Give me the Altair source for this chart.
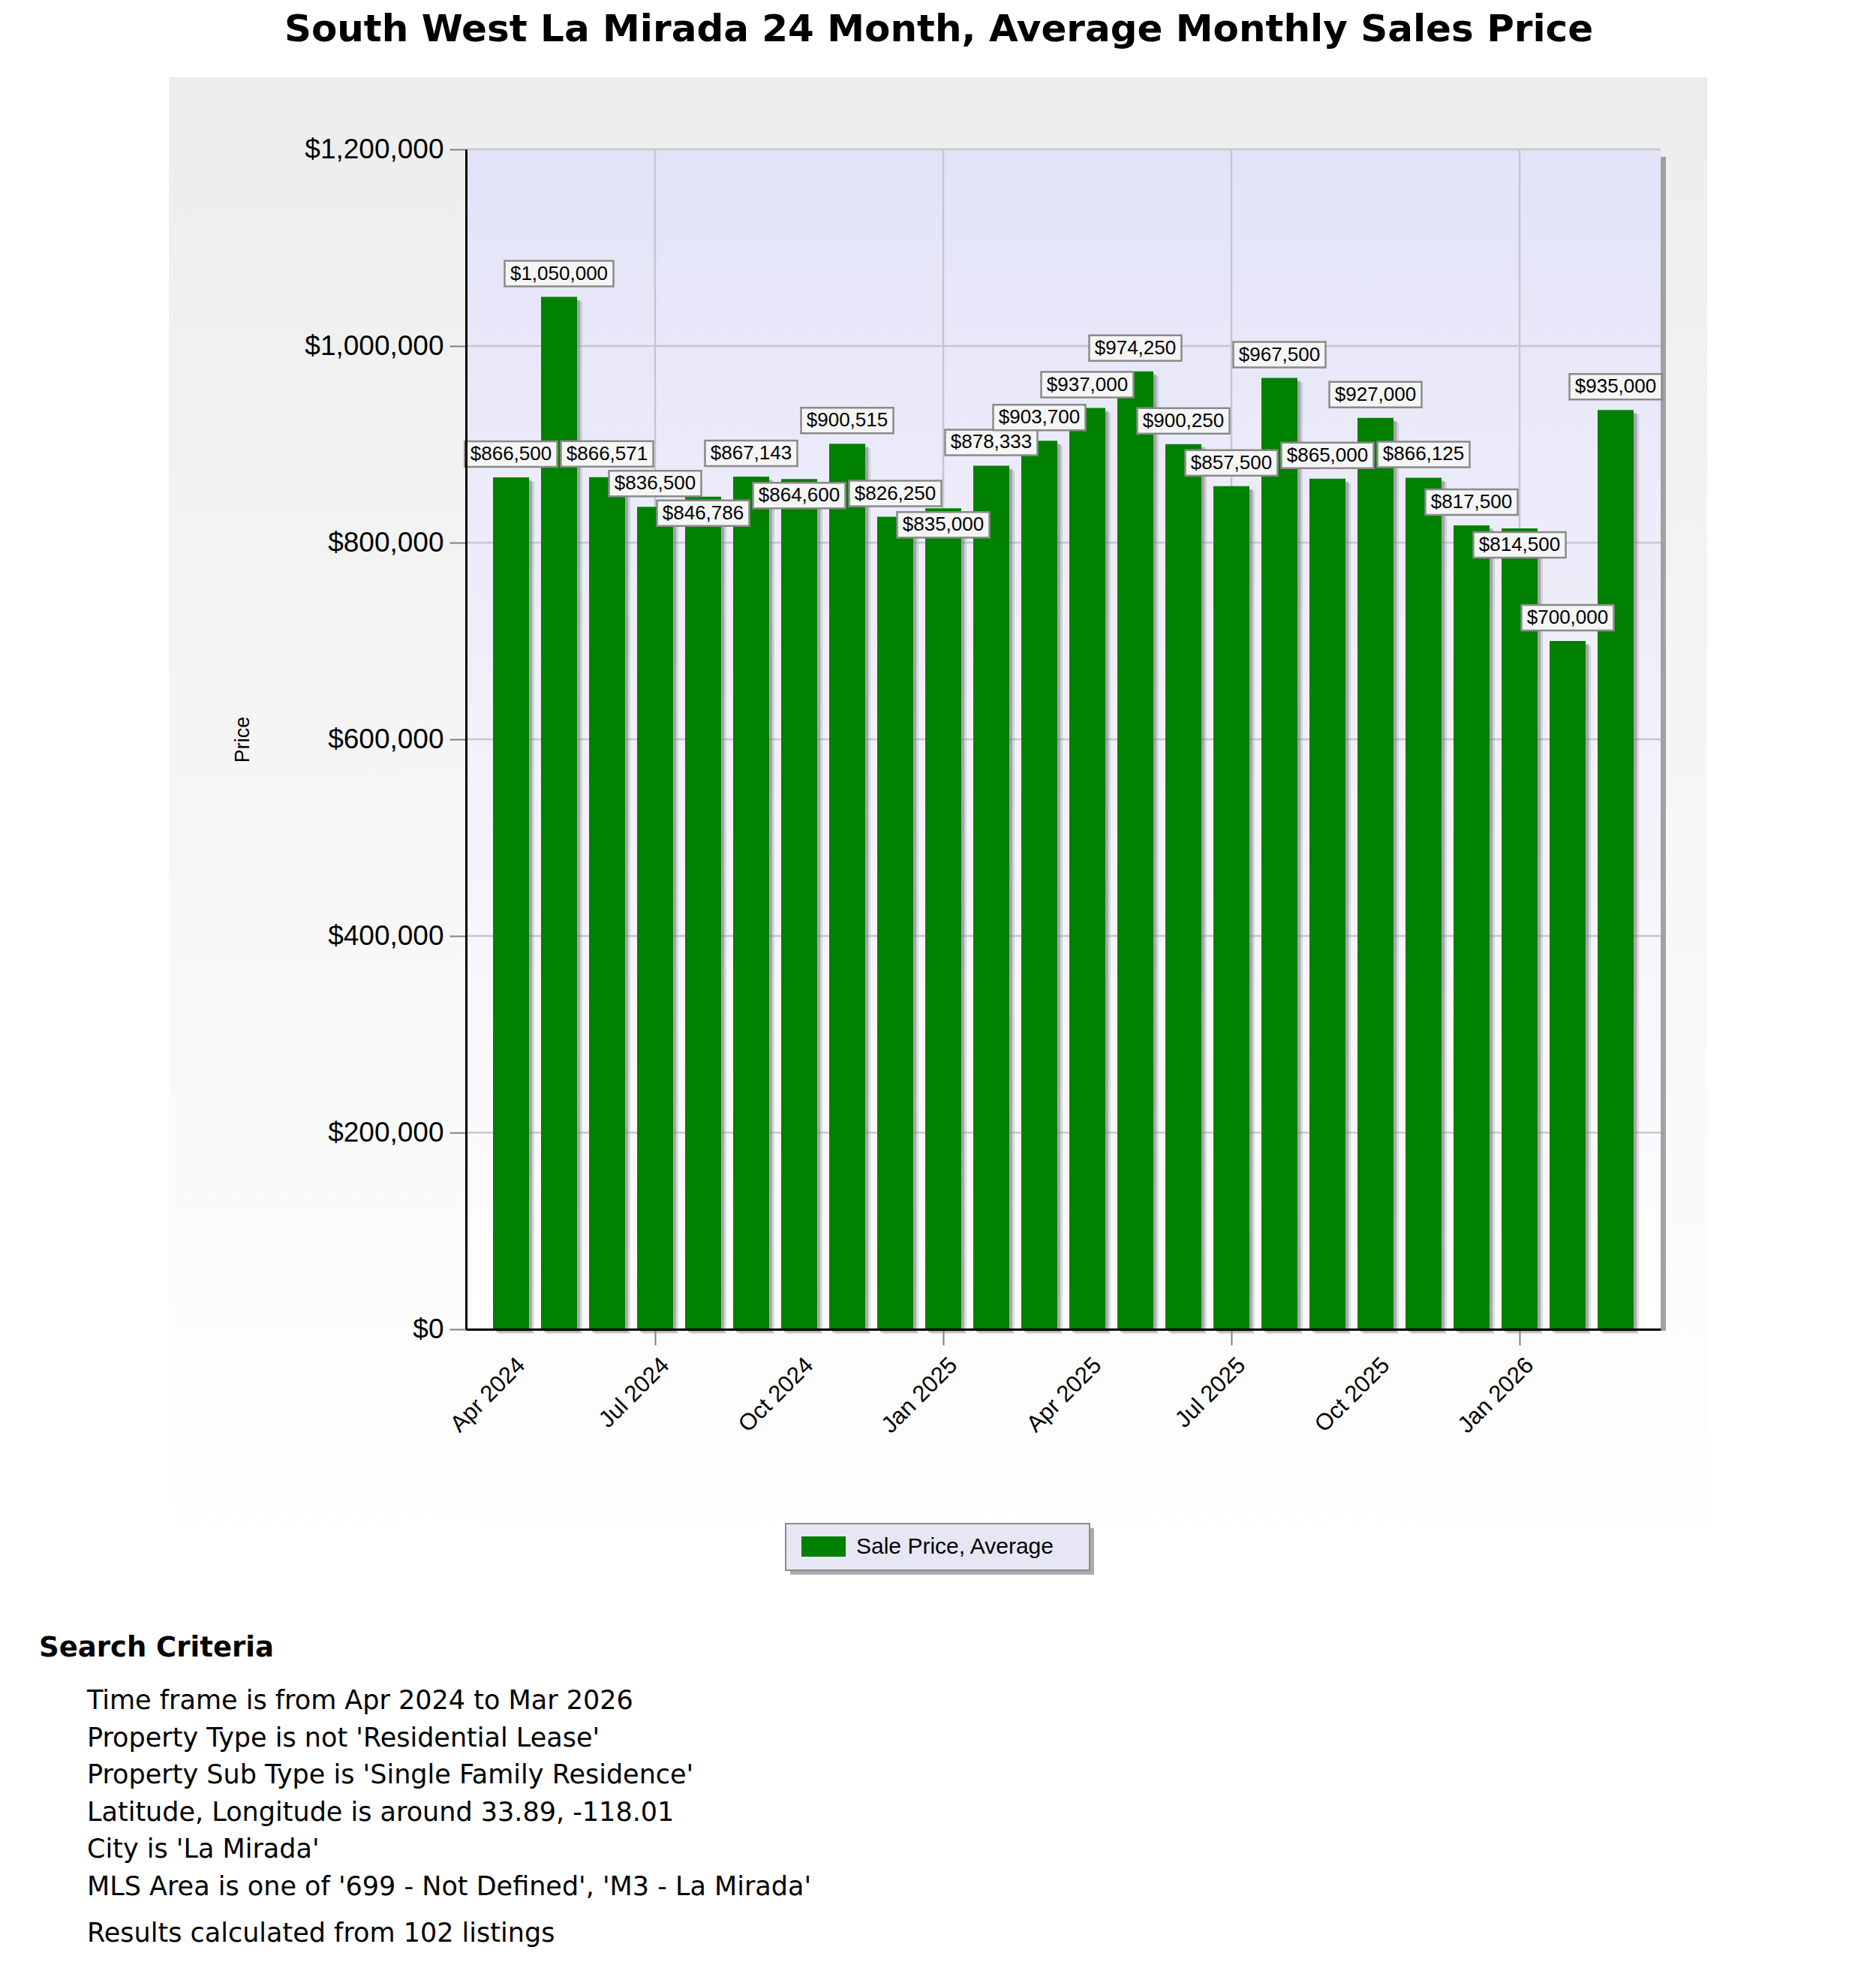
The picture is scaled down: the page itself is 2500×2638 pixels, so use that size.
import json
import altair as alt
import pandas as pd

# ---------------- data ----------------
TITLE = "South West La Mirada 24 Month, Average Monthly Sales Price"
SERIES = "Sale Price, Average"
Y_TITLE = "Price"

months = ["Apr 2024", "May 2024", "Jun 2024", "Jul 2024", "Aug 2024", "Sep 2024",
          "Oct 2024", "Nov 2024", "Dec 2024", "Jan 2025", "Feb 2025", "Mar 2025",
          "Apr 2025", "May 2025", "Jun 2025", "Jul 2025", "Aug 2025", "Sep 2025",
          "Oct 2025", "Nov 2025", "Dec 2025", "Jan 2026", "Feb 2026", "Mar 2026"]
avg_price = [866500, 1050000, 866571, 836500, 846786, 867143,
             864600, 900515, 826250, 835000, 878333, 903700,
             937000, 974250, 900250, 857500, 967500, 865000,
             927000, 866125, 817500, 814500, 700000, 935000]
# where each value label sits relative to its bar top
label_side = ["above", "above", "above", "above", "below", "above",
              "below", "above", "above", "below", "above", "above",
              "above", "above", "above", "above", "above", "above",
              "above", "above", "above", "below", "above", "above"]

tick_label_months = ["Apr 2024", "Jul 2024", "Oct 2024", "Jan 2025",
                     "Apr 2025", "Jul 2025", "Oct 2025", "Jan 2026"]
grid_months = ["Jul 2024", "Jan 2025", "Jul 2025", "Jan 2026"]
y_ticks = [0, 200000, 400000, 600000, 800000, 1000000, 1200000]

criteria_heading = "Search Criteria"
criteria_lines = [
    "Time frame is from Apr 2024 to Mar 2026",
    "Property Type is not 'Residential Lease'",
    "Property Sub Type is 'Single Family Residence'",
    "Latitude, Longitude is around 33.89, -118.01",
    "City is 'La Mirada'",
    "MLS Area is one of '699 - Not Defined', 'M3 - La Mirada'",
]
results_line = "Results calculated from 102 listings"

# ---------------- layout / style ----------------
W, H = 1592, 1572
YMAX = 1200000
K = YMAX / H            # value units per pixel
ABOVE_PX, BELOW_PX = 31, -22
BOX_H = 34
GREEN = "#008000"
FONT = "Liberation Sans"
VFONT = "DejaVu Sans"
LEG_X, LEG_Y, LEG_W, LEG_H = 426, 1831, 405, 62   # legend frame (plot coords)

df = pd.DataFrame({"month": months, "price": avg_price,
                   "side": label_side, "series": SERIES})
one = alt.Data(values=[{"k": 1}])

x_scale = alt.Scale(type="band", paddingInner=0.25, paddingOuter=0.5625)
y_scale = alt.Scale(domain=[0, YMAX], nice=False, zero=True)

grid_test = f"indexof({json.dumps(grid_months)}, datum.value) >= 0"

x_axis = alt.Axis(values=tick_label_months, labelAngle=-45, labelAlign="right",
                  labelBaseline="middle", labelFont=FONT, labelFontSize=31,
                  labelColor="black", labelPadding=22, labelOffset=14,
                  labelLimit=0,
                  tickSize=21, tickColor="#808080", tickWidth=2,
                  tickOpacity={"condition": {"test": grid_test, "value": 1}, "value": 0},
                  grid=False, domainColor="black", domainWidth=3, title=None,
                  bandPosition=0.5, zindex=1)
y_axis = alt.Axis(values=y_ticks, format="$,.0f", labelFont=FONT, labelFontSize=37,
                  labelColor="black", labelPadding=8, labelLimit=0, tickSize=22,
                  tickColor="#808080", tickWidth=2, grid=False,
                  domainColor="black", domainWidth=3, title=Y_TITLE,
                  titleFont=FONT, titleFontSize=27, titleFontWeight="normal",
                  titleColor="black", titleAngle=270, titleX=-298, titleY=H / 2,
                  titleAlign="center", titleBaseline="middle", zindex=1)


def xenc():
    return alt.X("month:N", sort=months, scale=x_scale, axis=x_axis)


def yenc(field):
    return alt.Y(field, scale=y_scale, axis=y_axis, title=Y_TITLE)


panel_grad = alt.LinearGradient(gradient="linear", x1=0, x2=0, y1=0, y2=1,
                                stops=[alt.GradientStop(color="#ededed", offset=0),
                                       alt.GradientStop(color="#ffffff", offset=1)])
plot_grad = alt.LinearGradient(gradient="linear", x1=0, x2=0, y1=0, y2=1,
                               stops=[alt.GradientStop(color="#e3e3f8", offset=0),
                                      alt.GradientStop(color="#ffffff", offset=1)])

panel = alt.Chart(one).mark_rect(color=panel_grad).encode(
    x=alt.value(-396), x2=alt.value(1654), y=alt.value(-96), y2=alt.value(1901))
plot_shadow = alt.Chart(one).mark_rect(color="#8c8c8c", opacity=0.8).encode(
    x=alt.value(W), x2=alt.value(W + 7), y=alt.value(10), y2=alt.value(H + 2))
plot_bg = alt.Chart(one).mark_rect(color=plot_grad).encode(
    x=alt.value(0), x2=alt.value(W), y=alt.value(0), y2=alt.value(H))

hgrid = alt.Chart(pd.DataFrame({"tick": y_ticks})).mark_rule(
    color="#c6c6ce", strokeWidth=2.5).encode(y=yenc("tick:Q"))
vgrid = alt.Chart(pd.DataFrame({"month": grid_months})).mark_rule(
    color="#c6c6ce", strokeWidth=2.5).encode(x=xenc())

shadow2 = alt.Chart(df).mark_bar(color="#9a9a9a", opacity=0.35, xOffset=7,
                                 yOffset=6, y2Offset=7).encode(
    x=xenc(), y=yenc("price:Q"))
shadow1 = alt.Chart(df).mark_bar(color="#6e6e6e", opacity=0.45, xOffset=4,
                                 yOffset=4, y2Offset=4).encode(
    x=xenc(), y=yenc("price:Q"))

bars = alt.Chart(df).mark_bar().encode(
    x=xenc(),
    y=yenc("price:Q"),
    color=alt.Color("series:N", scale=alt.Scale(range=[GREEN]),
                    legend=alt.Legend(orient="none", legendX=LEG_X + 21,
                                      legendY=LEG_Y + 1, title=None, padding=0,
                                      symbolType="M-1,-0.4576L1,-0.4576L1,0.4576L-1,0.4576Z",
                                      symbolSize=3481, symbolStrokeWidth=0,
                                      labelFont=FONT, labelFontSize=30,
                                      labelColor="black", labelOffset=14,
                                      labelLimit=0)),
)

labels_base = alt.Chart(df).transform_calculate(
    label_y=f"datum.price + (datum.side == 'below' ? {BELOW_PX * K} : {ABOVE_PX * K})",
    label="format(datum.price, '$,.0f')",
)
box_kw = dict(fill="#f5f5f5", stroke="#8a8a8a", strokeWidth=2.5,
              yOffset=-BOX_H / 2, y2Offset=BOX_H / 2)
box_short = labels_base.transform_filter("length(datum.label) <= 8").mark_bar(
    width=123, **box_kw).encode(x=xenc(), y=yenc("label_y:Q"), y2="label_y:Q")
box_long = labels_base.transform_filter("length(datum.label) > 8").mark_bar(
    width=145, **box_kw).encode(x=xenc(), y=yenc("label_y:Q"), y2="label_y:Q")
label_text = labels_base.mark_text(font=FONT, fontSize=26, color="black",
                                   align="center", baseline="middle").encode(
    x=xenc(), y=yenc("label_y:Q"), text="label:N")

title_txt = alt.Chart(one).mark_text(text=TITLE, font=VFONT, fontWeight="bold",
                                     fontSize=50, align="center",
                                     baseline="alphabetic", color="black").encode(
    x=alt.value(630), y=alt.value(-144))
crit_head = alt.Chart(one).mark_text(text=criteria_heading, font=VFONT,
                                     fontWeight="bold", fontSize=37, align="left",
                                     baseline="alphabetic", color="black").encode(
    x=alt.value(-569), y=alt.value(2008))
crit_body = alt.Chart(one).mark_text(text=criteria_lines, font=VFONT, fontSize=35,
                                     lineHeight=49.6, align="left",
                                     baseline="alphabetic", color="black").encode(
    x=alt.value(-505), y=alt.value(2078))
crit_res = alt.Chart(one).mark_text(text=results_line, font=VFONT, fontSize=35,
                                    align="left", baseline="alphabetic",
                                    color="black").encode(
    x=alt.value(-505), y=alt.value(2388))

legend_shadow = alt.Chart(one).mark_rect(color="#8f8f8f", opacity=0.75).encode(
    x=alt.value(LEG_X + 6), x2=alt.value(LEG_X + LEG_W + 6),
    y=alt.value(LEG_Y + 6), y2=alt.value(LEG_Y + LEG_H + 6))
legend_box = alt.Chart(one).mark_rect(fill="#e6e6f4", stroke="#8a8a8a",
                                      strokeWidth=2).encode(
    x=alt.value(LEG_X), x2=alt.value(LEG_X + LEG_W),
    y=alt.value(LEG_Y), y2=alt.value(LEG_Y + LEG_H))

chart = alt.layer(
    panel, plot_shadow, plot_bg, hgrid, vgrid, shadow2, shadow1, bars,
    box_short, box_long, label_text, title_txt, crit_head, crit_body, crit_res,
    legend_shadow, legend_box,
).properties(
    width=W, height=H,
    padding={"left": 613, "top": 191, "right": 275, "bottom": 852},
    autosize=alt.AutoSizeParams(type="none"),
    background="white",
).configure_view(strokeWidth=0)

chart.save("out.html", embed_options={"renderer": "svg", "actions": False})
